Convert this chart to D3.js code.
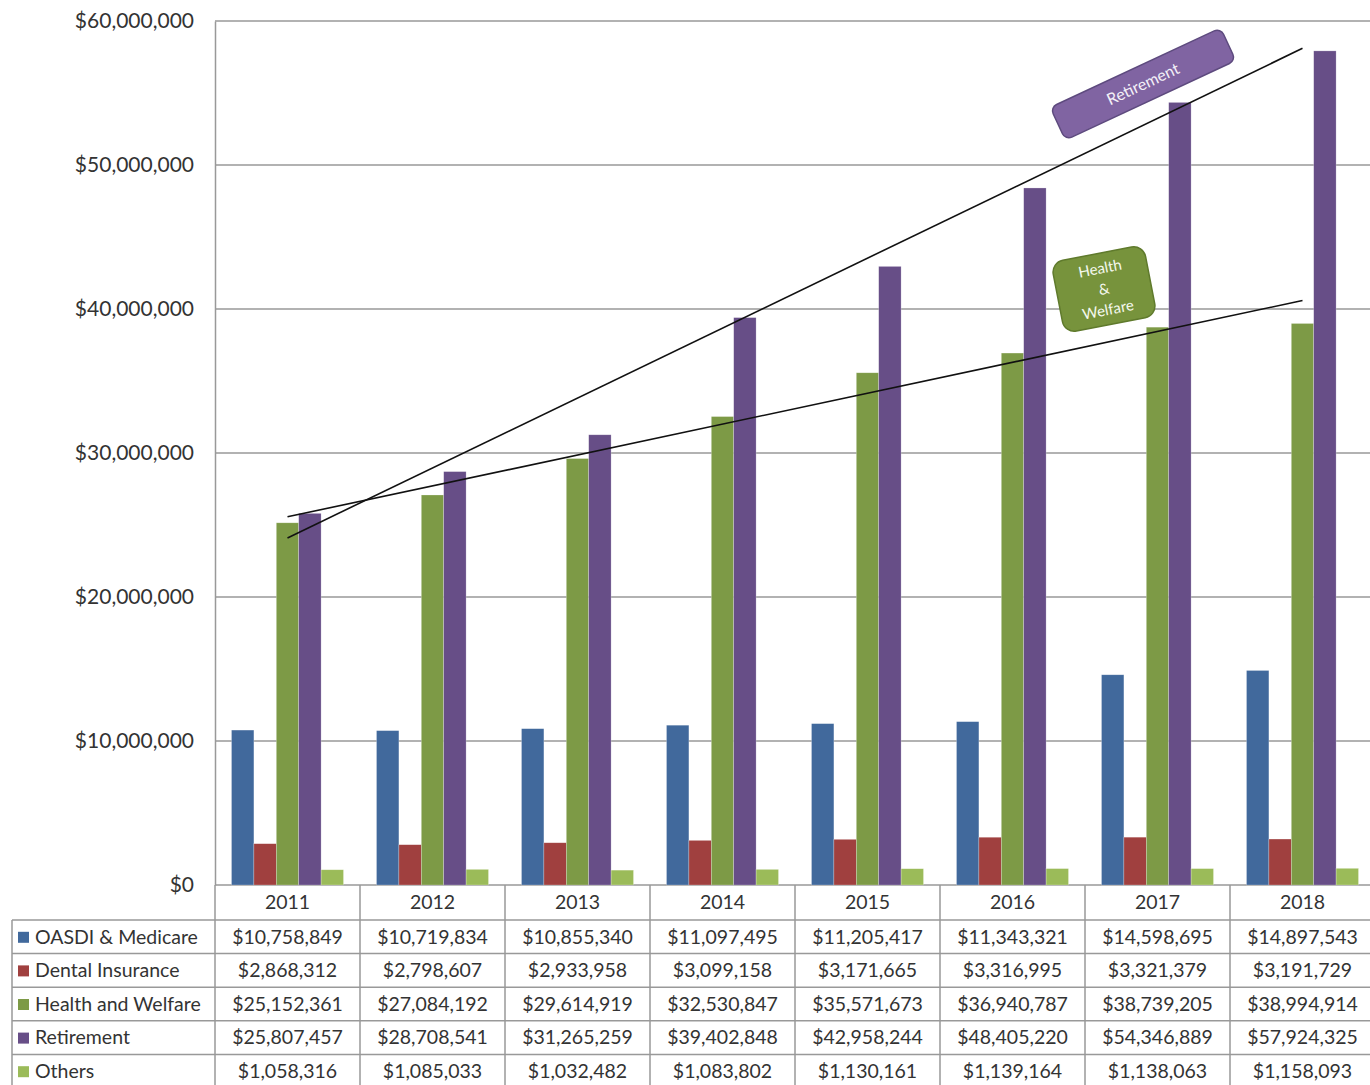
<!DOCTYPE html>
<html>
<head>
<meta charset="utf-8">
<script src="https://cdn.jsdelivr.net/npm/d3@7"></script>
<style>
  body { margin: 0; background: #fff; }
  text { font-family: Lato, "Open Sans", sans-serif; fill: #333; }
</style>
</head>
<body>
<svg id="chart" width="1370" height="1085"></svg>
<script>
var years = ["2011", "2012", "2013", "2014", "2015", "2016", "2017", "2018"];
var seriesNames = ["OASDI & Medicare", "Dental Insurance", "Health and Welfare", "Retirement", "Others"];
var seriesColors = ["#41699c", "#a0403f", "#7d9a46", "#674e87", "#9bbb59"];
var oasdi = [10758849, 10719834, 10855340, 11097495, 11205417, 11343321, 14598695, 14897543];
var dental = [2868312, 2798607, 2933958, 3099158, 3171665, 3316995, 3321379, 3191729];
var health = [25152361, 27084192, 29614919, 32530847, 35571673, 36940787, 38739205, 38994914];
var retirement = [25807457, 28708541, 31265259, 39402848, 42958244, 48405220, 54346889, 57924325];
var others = [1058316, 1085033, 1032482, 1083802, 1130161, 1139164, 1138063, 1158093];
var yTicks = [0, 10000000, 20000000, 30000000, 40000000, 50000000, 60000000];

var seriesValues = [oasdi, dental, health, retirement, others];

var plotLeft = 215, plotRight = 1375, plotTop = 21, plotBottom = 885;
var rowH = 33.6, headerH = 35;
var tableFont = "19.5px";

let svg = d3.select("#chart");

let x0 = d3.scaleBand().domain(years).range([plotLeft, plotRight]);
let x1 = d3.scaleBand().domain(seriesNames).range([16.5, x0.bandwidth() - 16.5]);
let y = d3.scaleLinear().domain([0, 60000000]).range([plotBottom, plotTop]);
let money = function(v) { return "$" + d3.format(",")(v); };

// gridlines
svg.append("g").selectAll("line")
    .data(yTicks)
    .enter().append("line")
    .attr("x1", plotLeft)
    .attr("x2", plotRight)
    .attr("y1", function(d) { return y(d); })
    .attr("y2", function(d) { return y(d); })
    .attr("stroke", "#999")
    .attr("stroke-width", 1.5);

// y axis
let yAxis = svg.append("g")
    .attr("transform", "translate(" + plotLeft + ",0)")
    .call(d3.axisLeft(y).tickValues(yTicks).tickSize(0).tickPadding(21).tickFormat(money));
yAxis.select(".domain").attr("stroke", "#999").attr("stroke-width", 1.5);
yAxis.selectAll("text")
    .attr("font-size", "21px")
    .attr("font-family", "Lato, sans-serif")
    .attr("fill", "#333");

// bars
let groups = svg.append("g").selectAll("g")
    .data(years)
    .enter().append("g")
    .attr("transform", function(d) { return "translate(" + x0(d) + ",0)"; });

groups.selectAll("rect")
    .data(function(d, i) {
        return seriesNames.map(function(s, k) { return { name: s, value: seriesValues[k][i], k: k }; });
    })
    .enter().append("rect")
    .attr("x", function(d) { return x1(d.name); })
    .attr("width", x1.bandwidth())
    .attr("y", function(d) { return y(d.value); })
    .attr("height", function(d) { return plotBottom - y(d.value); })
    .attr("fill", function(d) { return seriesColors[d.k]; })
    .attr("stroke", "#fff")
    .attr("stroke-opacity", 0.4)
    .attr("stroke-width", 0.6);

// linear trend lines for Health and Welfare and Retirement
function trend(vals) {
    let n = vals.length;
    let mx = (n - 1) / 2, my = d3.mean(vals);
    let sxy = d3.sum(vals, function(v, i) { return (i - mx) * (v - my); });
    let sxx = d3.sum(vals, function(v, i) { return (i - mx) * (i - mx); });
    let b = sxy / sxx;
    return [my - b * mx, my + b * (n - 1 - mx)];
}
[health, retirement].forEach(function(vals) {
    let t = trend(vals);
    svg.append("line")
        .attr("x1", x0(years[0]) + x0.bandwidth() / 2)
        .attr("x2", x0(years[years.length - 1]) + x0.bandwidth() / 2)
        .attr("y1", y(t[0]))
        .attr("y2", y(t[1]))
        .attr("stroke", "#111")
        .attr("stroke-width", 1.6);
});

// annotation boxes
let retBox = svg.append("g").attr("transform", "translate(1143,84) rotate(-25)");
retBox.append("rect")
    .attr("x", -94).attr("y", -18).attr("width", 188).attr("height", 36)
    .attr("rx", 7)
    .attr("fill", "#8064a2")
    .attr("stroke", "#5d4a7e")
    .attr("stroke-width", 1.5);
retBox.append("text")
    .attr("text-anchor", "middle")
    .attr("dy", "0.35em")
    .attr("font-size", "16px")
    .style("fill", "#f4f0f8")
    .text("Retirement");

let hwBox = svg.append("g").attr("transform", "translate(1104,289) rotate(-11)");
hwBox.append("rect")
    .attr("x", -47).attr("y", -36).attr("width", 94).attr("height", 72)
    .attr("rx", 12)
    .attr("fill", "#77933c")
    .attr("stroke", "#5f7a2c")
    .attr("stroke-width", 1.5);
hwBox.selectAll("text")
    .data(["Health", "&", "Welfare"])
    .enter().append("text")
    .attr("text-anchor", "middle")
    .attr("y", function(d, i) { return (i - 1) * 21; })
    .attr("dy", "0.35em")
    .attr("font-size", "15px")
    .style("fill", "#f4f8ee")
    .text(function(d) { return d; });

// data table
let table = svg.append("g");
let tableBottom = plotBottom + headerH + rowH * seriesNames.length + 2;
let gridColor = "#999";

// header row
table.selectAll(".yearText")
    .data(years)
    .enter().append("text")
    .attr("class", "yearText")
    .attr("x", function(d) { return x0(d) + x0.bandwidth() / 2; })
    .attr("y", plotBottom + headerH / 2)
    .attr("dy", "0.35em")
    .attr("text-anchor", "middle")
    .attr("font-size", tableFont)
    .text(function(d) { return d; });

// horizontal lines
for (let r = 0; r <= seriesNames.length; r++) {
    table.append("line")
        .attr("x1", 12)
        .attr("x2", plotRight)
        .attr("y1", plotBottom + headerH + r * rowH)
        .attr("y2", plotBottom + headerH + r * rowH)
        .attr("stroke", gridColor)
        .attr("stroke-width", 1.5);
}
// vertical lines
table.selectAll(".vline")
    .data(years.concat(["end"]))
    .enter().append("line")
    .attr("class", "vline")
    .attr("x1", function(d) { return d === "end" ? plotRight : x0(d); })
    .attr("x2", function(d) { return d === "end" ? plotRight : x0(d); })
    .attr("y1", plotBottom)
    .attr("y2", tableBottom)
    .attr("stroke", gridColor)
    .attr("stroke-width", 1.5);
table.append("line")
    .attr("x1", 12).attr("x2", 12)
    .attr("y1", plotBottom + headerH).attr("y2", tableBottom)
    .attr("stroke", gridColor).attr("stroke-width", 1.5);

// rows
seriesNames.forEach(function(name, k) {
    let cy = plotBottom + headerH + k * rowH + rowH / 2;
    table.append("rect")
        .attr("x", 18).attr("y", cy - 5).attr("width", 11).attr("height", 11)
        .attr("fill", seriesColors[k]);
    table.append("text")
        .attr("x", 35)
        .attr("y", cy)
        .attr("dy", "0.35em")
        .attr("font-size", tableFont)
        .text(name);
    table.selectAll(".cell" + k)
        .data(seriesValues[k])
        .enter().append("text")
        .attr("class", "cell" + k)
        .attr("x", function(d, i) { return x0(years[i]) + x0.bandwidth() / 2; })
        .attr("y", cy)
        .attr("dy", "0.35em")
        .attr("text-anchor", "middle")
        .attr("font-size", tableFont)
        .text(function(d) { return money(d); });
});
</script>
</body>
</html>
